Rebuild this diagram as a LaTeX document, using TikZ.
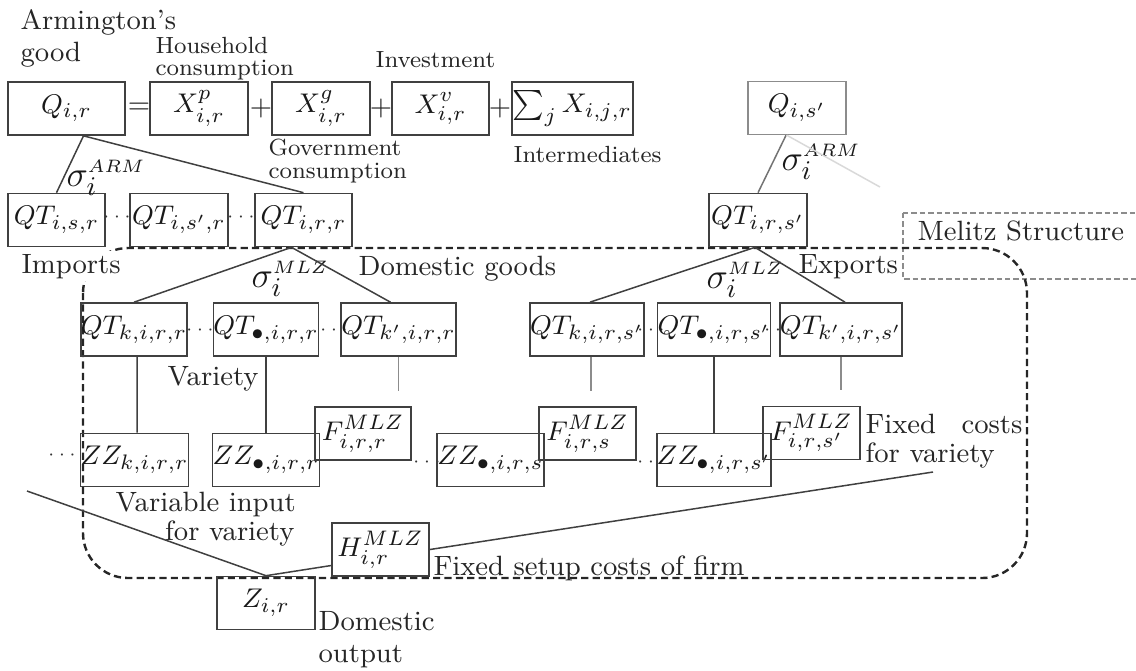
\documentclass[tikz,border=0pt]{standalone}
\usetikzlibrary{calc}
\newcommand{\cm}{{,}}
\begin{document}
\begin{tikzpicture}[x=0.3333pt,y=-0.3333pt,
  bx/.style={draw=black!75, line width=0.55pt, inner sep=0pt, minimum height=53*0.3333pt, minimum width=97*0.3333pt, font=\fontsize{9.4}{12}\selectfont, text=black!90},
  wd/.style={minimum width=#1*0.3333pt},
  lbl/.style={inner sep=0pt, font=\fontsize{9.3}{11}\selectfont, text=black!85},
  sml/.style={inner sep=0pt, font=\fontsize{7.8}{9}\selectfont, text=black!85},
  sig/.style={inner sep=0pt, font=\fontsize{12.5}{14}\selectfont, text=black!90},
  dots/.style={inner sep=0pt, anchor=base, font=\fontsize{6}{7}\selectfont, text=black!80},
  conn/.style={line width=0.5pt, draw=black!75},
  bigdash/.style={line width=0.8pt, draw=black!85, dash pattern=on 2.4pt off 1.4pt},
  melitz/.style={line width=0.45pt, draw=black!45, dash pattern=on 1.8pt off 1.0pt}
]
\useasboundingbox (0,0) rectangle (1136,670);

% Melitz structure box and big dashed region
\draw[melitz] (903,213) -- (1150,213) (903,213) -- (903,279) -- (1150,279);
\draw[bigdash, rounded corners=15pt] (83,248) rectangle (1027,578);

% top row
\node[bx, wd=117] (Qir) at (66.5,108.5) {$Q_{i\cm r}$};
\node[lbl] (eq) at (139,108) {=};
\node[bx, wd=98] (Xp) at (199,108.5) {$X_{i\cm r}^{p}$};
\node[lbl] (pl1) at (261,108) {+};
\node[bx, wd=98] (Xg) at (321,108.5) {$X_{i\cm r}^{g}$};
\node[lbl] (pl2) at (381,108) {+};
\node[bx, wd=97] (Xv) at (440.5,108.5) {$X_{i\cm r}^{v}$};
\node[lbl] (pl3) at (500,108) {+};
\node[bx, wd=121] (Sum) at (572.5,108.5) {$\sum_j X_{i\cm j\cm r}$};
\node[bx, wd=98, draw=black!45] (Qis) at (797,108) {$Q_{i\cm s'}$};

% second row
\node[bx] (QTisr) at (56.5,220) {$QT_{i\cm s\cm r}$};
\node[dots] (d1) at (117,221.5) {$\cdots$};
\node[bx, wd=98] (QTispr) at (179,220) {$QT_{i\cm s'\cm r}$};
\node[dots] (d2) at (241,221.5) {$\cdots$};
\node[bx] (QTirr) at (303.5,220) {$QT_{i\cm r\cm r}$};
\node[bx, wd=98] (QTirs) at (758,220) {$QT_{i\cm r\cm s'}$};

% third row
\node[bx, wd=96] (QTk) at (134,329.5) {$QT_{k\cm i\cm r\cm r}$};
\node[dots] (d3) at (200,334.5) {$\cdots$};
\node[bx, wd=98] (QTd) at (266,329.5) {$QT_{\bullet\cm i\cm r\cm r}$};
\node[dots] (d4) at (334,334.5) {$\cdots$};
\node[bx] (QTkp) at (398.5,329.5) {$QT_{k'\cm i\cm r\cm r}$};
\node[bx, wd=98] (QTks) at (587,329.5) {$QT_{k\cm i\cm r\cm s'}$};
\node[dots] (d5) at (651,334.5) {$\cdots$};
\node[bx, wd=98] (QTds) at (714,329.5) {$QT_{\bullet\cm i\cm r\cm s'}$};
\node[dots] (d6) at (778,334.5) {$\cdots$};
\node[bx, wd=98] (QTkps) at (841,329.5) {$QT_{k'\cm i\cm r\cm s'}$};

% fourth row
\node[dots] (d7) at (62,459.5) {$\cdots$};
\node[bx] (ZZk) at (134.5,460) {$ZZ_{k\cm i\cm r\cm r}$};
\node[bx, wd=98] (ZZd) at (266,460) {$ZZ_{\bullet\cm i\cm r\cm r}$};
\node[bx, wd=96] (Frr) at (363,433.5) {$F_{i\cm r\cm r}^{MLZ}$};
\node[dots] (d8) at (427,466.5) {$\cdots$};
\node[bx] (ZZds) at (490.5,460) {$ZZ_{\bullet\cm i\cm r\cm s}$};
\node[bx] (Frs) at (587.5,433.5) {$F_{i\cm r\cm s}^{MLZ}$};
\node[dots] (d9) at (651,466.5) {$\cdots$};
\node[bx, wd=98] (ZZdsp) at (714,460) {$ZZ_{\bullet\cm i\cm r\cm s'}$};
\node[bx] (Frsp) at (811.5,433) {$F_{i\cm r\cm s'}^{MLZ}$};

% bottom
\node[bx] (H) at (380.5,549.5) {$H_{i\cm r}^{MLZ}$};
\node[bx, wd=98] (Z) at (266,603) {$Z_{i\cm r}$};

% sigma labels
\node[sig, anchor=base west] (sA1) at (66,186) {$\sigma_i^{\scriptscriptstyle ARM}$};
\node[sig, anchor=base west] (sA2) at (781,170) {$\sigma_i^{\scriptscriptstyle ARM}$};
\node[sig, anchor=base west] (sM1) at (251,287) {$\sigma_i^{\scriptscriptstyle MLZ}$};
\node[sig, anchor=base west] (sM2) at (706,288) {$\sigma_i^{\scriptscriptstyle MLZ}$};

% text labels
\node[lbl, anchor=base west] (arm1) at (20,29) {Armington's};
\node[lbl, anchor=base west] (arm2) at (20,61) {good};
\node[sml, anchor=base west] (hh1) at (155,53) {Household};
\node[sml, anchor=base west] (hh2) at (155,75) {consumption};
\node[sml, anchor=base west] (inv) at (375,67) {Investment};
\node[sml, anchor=base west] (gov1) at (268,155) {Government};
\node[sml, anchor=base west] (gov2) at (268,178) {consumption};
\node[sml, anchor=base west] (intm) at (513,162) {Intermediates};
\node[lbl, anchor=base west, fill=white, inner sep=1pt] (imp) at (18,273) {Imports};
\node[lbl, anchor=base west] (dom) at (358,275) {Domestic goods};
\node[lbl, anchor=base west] (exp) at (798,273) {Exports};
\node[lbl, anchor=base west] (mel) at (917,240) {Melitz Structure};
\node[lbl, anchor=base west] (var) at (167,385) {Variety};
\node[lbl, anchor=base west] (vi1) at (115,511) {Variable input};
\node[lbl, anchor=base east] (vi2) at (295,540) {for variety};
\node[lbl, anchor=base west] (fc1) at (865,433) {Fixed};
\node[lbl, anchor=base east] (fc2) at (1023,433) {costs};
\node[lbl, anchor=base west] (fc3) at (865,462) {for variety};
\node[lbl, anchor=base west] (fsc) at (433,575) {Fixed setup costs of firm};
\node[lbl, anchor=base west] (do1) at (318,630) {Domestic};
\node[lbl, anchor=base west] (do2) at (318,662) {output};

% free ends
\coordinate (faint) at (880,187);
\coordinate (diagL) at (27,491);
\coordinate (fcEnd) at (933,472);

% connectors
\draw[conn] ($(Qir.south)+(17,0)$) -- (QTisr.north);
\draw[conn] ($(Qir.south)+(17,0)$) -- (QTirr.north);
\draw[conn] ($(QTirr.south)+(-12,0)$) -- (QTk.north);
\draw[conn] ($(QTirr.south)+(-12,0)$) -- ($(QTkp.north)+(-8,0)$);
\draw[conn] ($(QTk.south)+(3,0)$) -- ($(ZZk.north)+(2.5,0)$);
\draw[conn] (QTd.south) -- (ZZd.north);
\draw[conn, draw=black!45] (QTkp.south) -- ++(0,34);
\draw[conn, draw=black!55] ($(Qis.south)+(-11,0)$) -- (QTirs.north);
\draw[line width=0.5pt, draw=black!15] ($(Qis.south)+(-10,0)$) -- (faint);
\draw[conn] ($(QTirs.south)+(-3,0)$) -- ($(QTks.north)+(3,0)$);
\draw[conn] ($(QTirs.south)+(-3,0)$) -- ($(QTkps.north)+(4,0)$);
\draw[conn, draw=black!45] ($(QTks.south)+(4,0)$) -- ++(0,34);
\draw[conn] (QTds.south) -- (ZZdsp.north);
\draw[conn, draw=black!45] (QTkps.south) -- ++(0,33);
\draw[conn] (diagL) -- (Z.north);
\draw[conn] (Z.north) -- ($(H.west)+(0,16)$);
\draw[conn] (H.east) -- (fcEnd);
\end{tikzpicture}
\end{document}
